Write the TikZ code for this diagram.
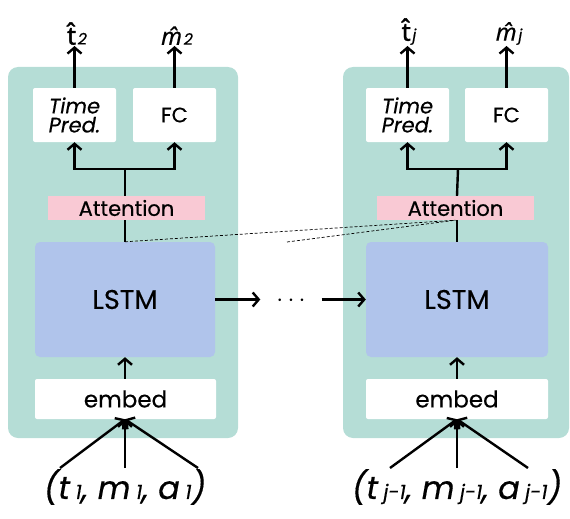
\documentclass[tikz,border=0pt]{standalone}
\usepackage{fontspec}
\setmainfont{Poppins}[FakeBold=0.35]
\newfontfamily\lblfont{Noto Sans}[FakeBold=0.4]
\newfontfamily\lblboldfont{Noto Sans}[FakeBold=1.6]
\usetikzlibrary{arrows.meta}
\definecolor{panelc}{RGB}{181,221,214}
\definecolor{attnc}{RGB}{249,201,212}
\definecolor{lstmc}{RGB}{176,196,235}
\newcommand{\sub}[1]{{\fontsize{20}{20}\selectfont #1}}
\newcommand{\osub}[1]{{\fontsize{16}{16}\selectfont\itshape #1}}
\newcommand{\hatt}{{\lblboldfont\fontsize{25}{25}\selectfont t^^^^0302}}
\newcommand{\hatm}{{\lblfont\fontsize{24}{24}\selectfont\itshape m^^^^0302}}
\begin{document}
\begin{tikzpicture}[x=1pt,y=-1pt,
  panel/.style={fill=panelc, rounded corners=10pt, inner sep=0pt},
  wbox/.style={fill=white, rounded corners=2pt, inner sep=0pt, minimum width=83pt, minimum height=54pt,
    font=\fontsize{21}{19}\selectfont, align=center},
  attbox/.style={fill=attnc, inner sep=0pt, minimum width=157pt, minimum height=24pt,
    font=\fontsize{21}{21}\selectfont},
  lstmbox/.style={fill=lstmc, rounded corners=5pt, inner sep=0pt, minimum height=115pt,
    font=\fontsize{27}{27}\selectfont},
  embbox/.style={fill=white, rounded corners=2pt, inner sep=0pt, minimum height=40pt,
    font=\fontsize{23}{23}\selectfont},
  outlbl/.style={inner sep=1pt, anchor=south},
  inlbl/.style={inner sep=0pt, font=\fontsize{32}{32}\selectfont\itshape},
  arr/.style={line width=2.4pt, -{Straight Barb[length=6pt,width=14pt]}},
  ln/.style={line width=2.4pt},
  dashln/.style={line width=0.7pt, dash pattern=on 3pt off 2pt}]
\useasboundingbox (0,0) rectangle (570,519);

% ---- first time step ----
\node[panel, minimum width=230pt, minimum height=371pt] (p1) at (123,252.5) {};
\node[wbox] (tp1) at (74.5,115) {\itshape Time\\\itshape Pred.};
\node[wbox] (fc1) at (174.5,115) {FC};
\node[attbox] (att1) at (126.5,208) {Attention};
\node[lstmbox, minimum width=180pt] (lstm1) at (125,299.5) {LSTM};
\node[embbox, minimum width=181pt] (emb1) at (125.5,399) {embed};

\node[outlbl] (t2) at (77,46) {\hatt\,\osub{2}};
\node[outlbl] (m2) at (177,46) {\hatm\,\osub{2}};
\node[inlbl] (in1) at (125,487) {(t\,\sub{1}, m\,\sub{1}, a\,\sub{1})};

\coordinate (br1) at (125,169);
\draw[ln] (lstm1.north) -- (lstm1.north |- att1.south);
\draw[ln] (lstm1.north |- att1.north) -- (br1);
\draw[arr] (br1) -| (tp1.south);
\draw[arr] (br1) -| (fc1.south);
\draw[arr] (tp1.north) -- (tp1.north |- t2.south);
\draw[arr] (fc1.north) -- (fc1.north |- m2.south);
\draw[arr] (emb1.north -| lstm1.south) -- (lstm1.south);
\coordinate (i1l) at (60,468);
\coordinate (i1m) at (125,468);
\coordinate (i1r) at (198,468);
\draw[arr] (i1l) -- (emb1.south -| lstm1.south);
\draw[arr] (i1m) -- (emb1.south -| lstm1.south);
\draw[arr] (i1r) -- (emb1.south -| lstm1.south);

% ---- recurrence ----
\node[minimum width=61pt, inner sep=0pt, font=\fontsize{24}{24}\selectfont] (dots) at (291,301) {$\cdots$};
\draw[arr] (lstm1.east) -- (lstm1.east -| dots.west);

% ---- j-th time step ----
\node[panel, minimum width=226pt, minimum height=371pt] (p2) at (456,252.5) {};
\node[wbox] (tp2) at (407.5,115) {\itshape Time\\\itshape Pred.};
\node[wbox] (fc2) at (506.5,115) {FC};
\node[attbox] (att2) at (455.5,208) {Attention};
\node[lstmbox, minimum width=182pt] (lstm2) at (457,299.5) {LSTM};
\node[embbox, minimum width=182pt] (emb2) at (457,399) {embed};

\node[outlbl] (tj) at (409,46) {\hatt\,\osub{j}};
\node[outlbl] (mj) at (509,46) {\hatm\,\osub{j}};
\node[inlbl] (in2) at (457,487) {(t\,\sub{j-1}, m\,\sub{j-1}, a\,\sub{j-1})};

\coordinate (br2) at (458,169);
\draw[ln] (lstm2.north) -- (lstm2.north |- att2.south);
\draw[ln] (lstm2.north |- att2.north) -- (br2);
\draw[arr] (br2) -| (tp2.south);
\draw[arr] (br2) -| (fc2.south);
\draw[arr] (tp2.north) -- (tp2.north |- tj.south);
\draw[arr] (fc2.north) -- (fc2.north |- mj.south);
\draw[arr] (emb2.north -| lstm2.south) -- (lstm2.south);
\coordinate (i2l) at (390,468);
\coordinate (i2m) at (457,468);
\coordinate (i2r) at (528,468);
\draw[arr] (i2l) -- (emb2.south -| lstm2.south);
\draw[arr] (i2m) -- (emb2.south -| lstm2.south);
\draw[arr] (i2r) -- (emb2.south -| lstm2.south);

\draw[arr] (dots.east |- lstm2.west) -- (lstm2.west);

% ---- attention links across steps ----
\coordinate (d0) at (287,242);
\draw[dashln] (lstm1.north) -- (att2.south);
\draw[dashln] (d0) -- (att2.south);
\end{tikzpicture}
\end{document}
